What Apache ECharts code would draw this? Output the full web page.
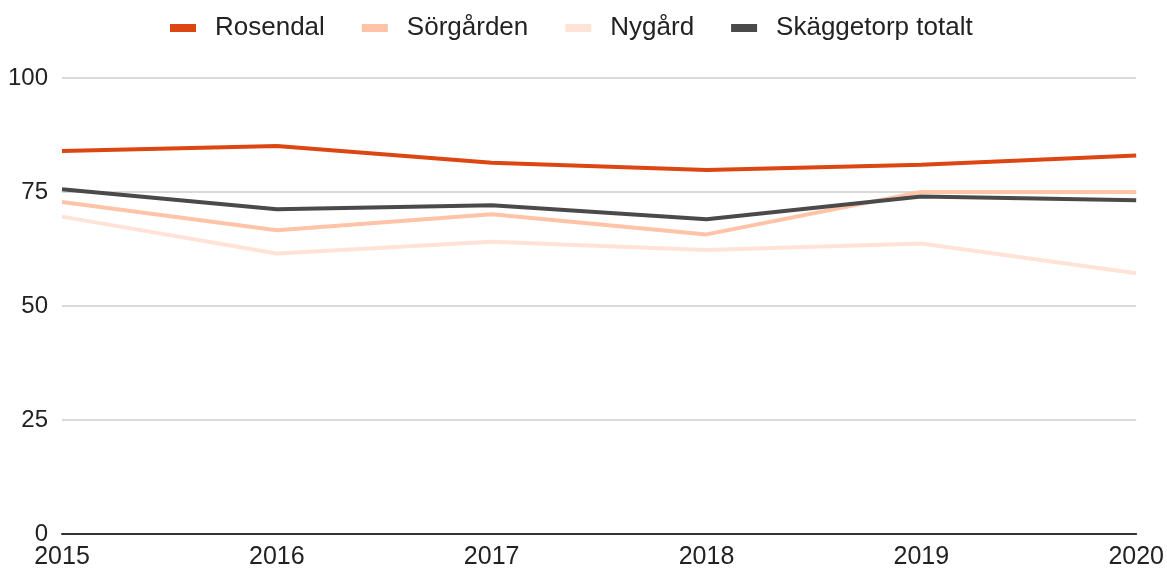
<!DOCTYPE html>
<html>
<head>
<meta charset="utf-8">
<script src="https://cdn.jsdelivr.net/npm/echarts@6/dist/echarts.min.js"></script>
<style>
  html, body { margin: 0; padding: 0; background: #fff; }
  #chart { width: 1167px; height: 572px; }
</style>
</head>
<body>
<div id="chart"></div>
<script>
const years = ['2015', '2016', '2017', '2018', '2019', '2020']
const rosendal = [84.0, 85.1, 81.4, 79.8, 81.0, 83.0]
const sorgarden = [72.8, 66.6, 70.1, 65.7, 75.0, 75.0]
const nygard = [69.6, 61.5, 64.1, 62.3, 63.7, 57.2]
const skaggetorp = [75.6, 71.2, 72.1, 69.0, 74.0, 73.2]
const yTicks = [0, 25, 50, 75, 100]

const chart = echarts.init(document.getElementById('chart'))

function line(name, data, color) {
  return {
    name: name,
    type: 'line',
    data: data,
    showSymbol: false,
    symbol: 'none',
    lineStyle: { width: 4, color: color },
    itemStyle: { color: color }
  }
}

chart.setOption({
  animation: false,
  textStyle: { fontFamily: 'Liberation Sans, Arial, sans-serif' },
  legend: {
    top: 10,
    left: 165,
    icon: 'rect',
    itemWidth: 26,
    itemHeight: 8,
    itemGap: 37,
    textStyle: {
      fontSize: 26,
      color: '#222',
      padding: [0, 0, 0, 14]
    },
    data: ['Rosendal', 'Sörgården', 'Nygård', 'Skäggetorp totalt']
  },
  grid: {
    left: 62,
    right: 30,
    top: 78,
    bottom: 38,
    containLabel: false
  },
  xAxis: {
    type: 'category',
    boundaryGap: false,
    data: years,
    axisTick: { show: false },
    axisLine: { show: true, lineStyle: { color: '#333', width: 2 } },
    axisLabel: { fontSize: 25, color: '#222', margin: 11 },
    splitLine: { show: false }
  },
  yAxis: {
    type: 'value',
    min: yTicks[0],
    max: yTicks[yTicks.length - 1],
    interval: 25,
    axisLine: { show: false },
    axisTick: { show: false },
    axisLabel: { fontSize: 24, color: '#222', margin: 14 },
    splitLine: { lineStyle: { color: '#cccccc', width: 1.5 } }
  },
  series: [
    line('Rosendal', rosendal, '#dc4613'),
    line('Sörgården', sorgarden, '#ffc3a7'),
    line('Nygård', nygard, '#ffe3d7'),
    line('Skäggetorp totalt', skaggetorp, '#4a4a4a')
  ]
})
</script>
</body>
</html>
